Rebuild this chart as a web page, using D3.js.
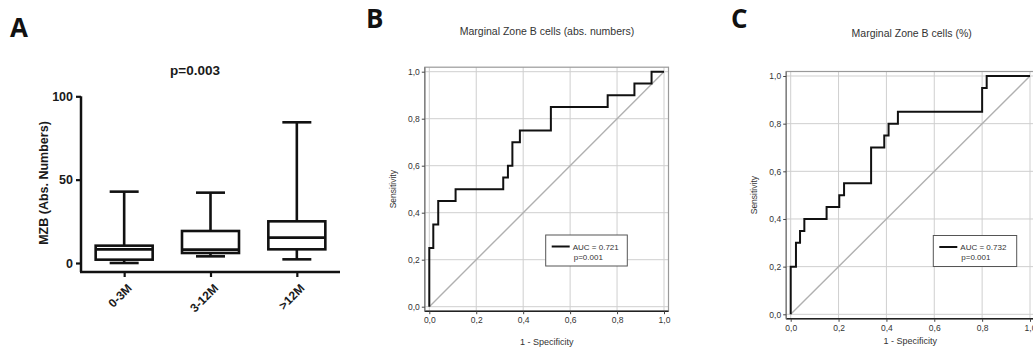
<!DOCTYPE html>
<head>
  <meta charset="utf-8">
  <script src="https://d3js.org/d3.v7.min.js"></script>
  <style>
    body { margin: 0; background: #fff; }
    svg { display: block; }
    .letter { font-family: "Open Sans", sans-serif; font-weight: 700; font-size: 26px; fill: #111; }
    .boxplot text { font-family: "Liberation Sans", Arial, sans-serif; font-weight: 700; fill: #1a1a1a; }
    .roc text { font-family: "Liberation Sans", Arial, sans-serif; fill: #333; }
    .grid line { stroke: #cfcfcf; stroke-width: 1; }
  </style>
</head>
<body>
<script>
// panel A : box plot values
var groups = ["0-3M", "3-12M", ">12M"];
var boxMin = [0, 4, 2.2];
var boxQ1 = [2, 6, 8.2];
var boxMed = [8.2, 8, 15.2];
var boxQ3 = [10.4, 19.2, 25];
var boxMax = [42.8, 42.2, 84.4];
var boxTicks = [0, 50, 100];

// panels B and C : ROC step points (1 - specificity, sensitivity)
var rocB_fpr = [0, 0.017, 0.038, 0.112, 0.315, 0.335, 0.354, 0.386, 0.518, 0.76, 0.874, 0.947, 1.0];
var rocB_tpr = [0, 0.25, 0.35, 0.45, 0.5, 0.55, 0.6, 0.7, 0.75, 0.85, 0.9, 0.95, 1.0];
var rocC_fpr = [0, 0.022, 0.039, 0.057, 0.150, 0.203, 0.223, 0.336, 0.391, 0.409, 0.448, 0.80, 0.819, 1.0];
var rocC_tpr = [0, 0.2, 0.3, 0.35, 0.4, 0.45, 0.5, 0.55, 0.7, 0.75, 0.8, 0.85, 0.95, 1.0];
var rocTicks = [0, 0.2, 0.4, 0.6, 0.8, 1.0];

var svg = d3.select("body").append("svg")
    .attr("width", 1033)
    .attr("height", 358);

svg.append("text").attr("class", "letter").attr("x", 10).attr("y", 37).text("A");
svg.append("text").attr("class", "letter").attr("x", 366).attr("y", 28).text("B");
svg.append("text").attr("class", "letter").attr("x", 731).attr("y", 28).text("C");

// ---------- panel A ----------
var a = svg.append("g").attr("class", "boxplot");

var x = d3.scalePoint()
    .domain(groups)
    .range([81, 340])
    .padding(0.5);

var y = d3.scaleLinear()
    .domain([0, 100])
    .range([263, 96.3]);

var boxW = 57, capW = 29;

a.append("text")
    .attr("x", 195).attr("y", 75)
    .attr("text-anchor", "middle")
    .style("font-size", "13.5px")
    .text("p=0.003");

var yAxisA = a.append("g")
    .attr("transform", "translate(81,0)")
    .call(d3.axisLeft(y).tickValues(boxTicks).tickSize(5).tickPadding(3).tickSizeOuter(0));
yAxisA.select(".domain").attr("stroke", "#111").attr("stroke-width", 2.5)
    .attr("d", "M0," + y(100) + "V" + (y(0) + 9));
yAxisA.selectAll(".tick line").attr("stroke", "#111").attr("stroke-width", 2.2);
yAxisA.selectAll(".tick text").style("font-size", "12.5px").attr("fill", "#1a1a1a");

var xAxisA = a.append("g")
    .attr("transform", "translate(0,272)")
    .call(d3.axisBottom(x).tickSize(5).tickSizeOuter(0));
xAxisA.select(".domain").attr("stroke", "#111").attr("stroke-width", 2.5)
    .attr("d", "M80,0H340");
xAxisA.selectAll(".tick line").attr("stroke", "#111").attr("stroke-width", 2.2);
xAxisA.selectAll(".tick text")
    .style("font-size", "12px")
    .attr("fill", "#1a1a1a")
    .attr("text-anchor", "end")
    .attr("dy", 0)
    .attr("transform", "translate(8,17) rotate(-45)")
    .attr("y", 0).attr("x", 0);

a.append("text")
    .attr("transform", "translate(48,183) rotate(-90)")
    .attr("text-anchor", "middle")
    .style("font-size", "12.5px")
    .text("MZB (Abs. Numbers)");

var boxes = a.selectAll(".box")
    .data(groups)
  .enter().append("g")
    .attr("class", "box")
    .attr("stroke", "#111")
    .attr("stroke-width", 2.6)
    .attr("fill", "none");

boxes.append("line")
    .attr("x1", function(d) { return x(d); })
    .attr("x2", function(d) { return x(d); })
    .attr("y1", function(d, i) { return y(boxMax[i]); })
    .attr("y2", function(d, i) { return y(boxMin[i]); });

boxes.append("rect")
    .attr("x", function(d) { return x(d) - boxW / 2; })
    .attr("width", boxW)
    .attr("y", function(d, i) { return y(boxQ3[i]); })
    .attr("height", function(d, i) { return y(boxQ1[i]) - y(boxQ3[i]); })
    .attr("fill", "#fff");

boxes.append("line")
    .attr("x1", function(d) { return x(d) - boxW / 2; })
    .attr("x2", function(d) { return x(d) + boxW / 2; })
    .attr("y1", function(d, i) { return y(boxMed[i]); })
    .attr("y2", function(d, i) { return y(boxMed[i]); });

[boxMax, boxMin].forEach(function(arr) {
  boxes.append("line")
      .attr("x1", function(d) { return x(d) - capW / 2; })
      .attr("x2", function(d) { return x(d) + capW / 2; })
      .attr("y1", function(d, i) { return y(arr[i]); })
      .attr("y2", function(d, i) { return y(arr[i]); });
});

// ---------- ROC panels ----------
function rocPanel(opt) {
  var g = svg.append("g").attr("class", "roc");
  var sx = d3.scaleLinear().domain([0, 1]).range([opt.x0, opt.x1]);
  var sy = d3.scaleLinear().domain([0, 1]).range([opt.y0, opt.y1]);
  var pad = 4.5;
  var left = opt.x0 - pad, right = opt.x1 + pad, top = opt.y1 - pad, bottom = opt.y0 + pad;

  g.append("text")
      .attr("x", opt.titleX).attr("y", opt.titleY)
      .attr("text-anchor", "middle")
      .style("font-size", "10.5px")
      .attr("fill", "#222")
      .text(opt.title);

  var grid = g.append("g").attr("class", "grid");
  grid.selectAll(".gx").data(rocTicks).enter().append("line")
      .attr("x1", sx).attr("x2", sx).attr("y1", top).attr("y2", bottom);
  grid.selectAll(".gy").data(rocTicks).enter().append("line")
      .attr("y1", sy).attr("y2", sy).attr("x1", left).attr("x2", right);

  g.append("rect")
      .attr("x", left).attr("y", top)
      .attr("width", right - left).attr("height", bottom - top)
      .attr("fill", "none").attr("stroke", "#9a9a9a").attr("stroke-width", 1.2);

  var fmt = function(d) { return d3.format(".1f")(d).replace(".", ","); };

  var ax = g.append("g")
      .attr("transform", "translate(0," + bottom + ")")
      .call(d3.axisBottom(sx).tickValues(rocTicks).tickSize(3).tickPadding(3).tickFormat(fmt));
  ax.select(".domain").attr("stroke", "#222").attr("stroke-width", 1.6)
      .attr("d", "M" + left + ",0H" + right);
  ax.selectAll(".tick line").attr("stroke", "#444");
  ax.selectAll(".tick text").style("font-size", "8.5px").attr("fill", "#444");

  var ay = g.append("g")
      .attr("transform", "translate(" + left + ",0)")
      .call(d3.axisLeft(sy).tickValues(rocTicks).tickSize(3).tickPadding(2).tickFormat(fmt));
  ay.select(".domain").attr("stroke", "#777").attr("stroke-width", 1.2)
      .attr("d", "M0," + top + "V" + bottom);
  ay.selectAll(".tick line").attr("stroke", "#444");
  ay.selectAll(".tick text").style("font-size", "8.5px").attr("fill", "#444");

  g.append("text")
      .attr("x", (opt.x0 + opt.x1) / 2).attr("y", opt.xLabelY)
      .attr("text-anchor", "middle")
      .style("font-size", "9px")
      .text("1 - Specificity");

  g.append("text")
      .attr("transform", "translate(" + opt.yLabelX + "," + ((opt.y0 + opt.y1) / 2) + ") rotate(-90)")
      .attr("text-anchor", "middle")
      .style("font-size", "8.5px")
      .text("Sensitivity");

  g.append("line")
      .attr("x1", sx(0)).attr("y1", sy(0))
      .attr("x2", sx(1)).attr("y2", sy(1))
      .attr("stroke", "#b0b0b0").attr("stroke-width", 1.4);

  var pts = opt.fpr.map(function(f, i) { return [f, opt.tpr[i]]; });
  g.append("path")
      .datum(pts)
      .attr("fill", "none")
      .attr("stroke", "#111")
      .attr("stroke-width", 2)
      .attr("d", d3.line()
        .x(function(d) { return sx(d[0]); })
        .y(function(d) { return sy(d[1]); })
        .curve(d3.curveStepBefore));

  var lg = g.append("g").attr("transform", "translate(" + opt.legX + "," + opt.legY + ")");
  lg.append("rect")
      .attr("width", opt.legW).attr("height", 31)
      .attr("fill", "#fff").attr("stroke", "#555").attr("stroke-width", 1);
  lg.append("line")
      .attr("x1", 6).attr("x2", 24).attr("y1", 11.5).attr("y2", 11.5)
      .attr("stroke", "#111").attr("stroke-width", 2);
  lg.append("text")
      .attr("x", 27).attr("y", 14.5)
      .style("font-size", "8px").attr("fill", "#222")
      .text(opt.auc);
  lg.append("text")
      .attr("x", 28).attr("y", 24.5)
      .style("font-size", "8px").attr("fill", "#222")
      .text(opt.p);
}

rocPanel({
  title: "Marginal Zone B cells (abs. numbers)", titleX: 547, titleY: 35,
  x0: 429.3, x1: 664, y0: 306.7, y1: 71.7,
  fpr: rocB_fpr, tpr: rocB_tpr,
  xLabelY: 345, yLabelX: 396,
  legX: 545.7, legY: 235, legW: 81.6,
  auc: "AUC = 0.721", p: "p=0.001"
});

rocPanel({
  title: "Marginal Zone B cells (%)", titleX: 911.7, titleY: 37,
  x0: 790.7, x1: 1030, y0: 314.3, y1: 76,
  fpr: rocC_fpr, tpr: rocC_tpr,
  xLabelY: 344, yLabelX: 757,
  legX: 933.3, legY: 235.5, legW: 83.4,
  auc: "AUC = 0.732", p: "p=0.001"
});
</script>
</body>
